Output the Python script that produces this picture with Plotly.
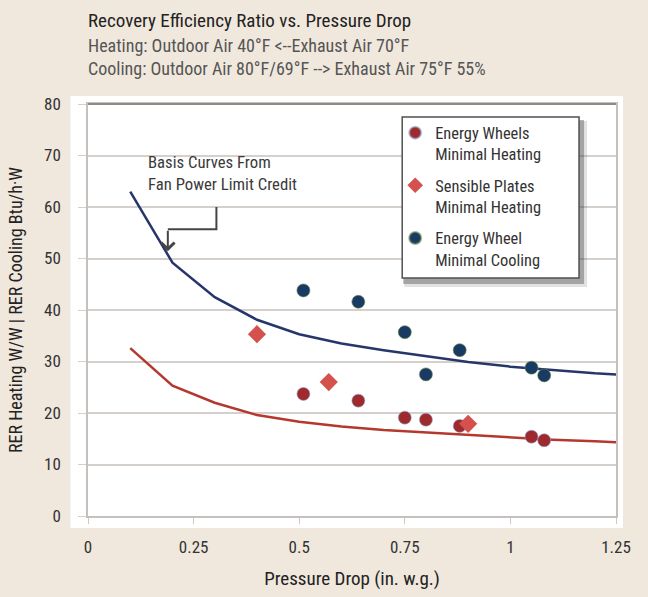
import plotly.graph_objects as go

# ---- data ----
curve_x = [0.1, 0.2, 0.3, 0.4, 0.5, 0.6, 0.7, 0.8, 0.9, 1.0, 1.1, 1.2, 1.25]
cooling_curve = [63.0, 49.2, 42.5, 38.1, 35.3, 33.5, 32.2, 31.0, 29.9, 29.0, 28.3, 27.7, 27.5]
heating_curve = [32.6, 25.3, 22.0, 19.6, 18.3, 17.4, 16.7, 16.2, 15.7, 15.2, 14.8, 14.5, 14.3]

wheel_heat_x = [0.51, 0.64, 0.75, 0.80, 0.88, 1.05, 1.08]
wheel_heat_y = [23.7, 22.4, 19.1, 18.7, 17.5, 15.4, 14.7]

plate_heat_x = [0.40, 0.57, 0.90]
plate_heat_y = [35.3, 26.0, 17.9]

wheel_cool_x = [0.51, 0.64, 0.75, 0.88, 0.80, 1.05, 1.08]
wheel_cool_y = [43.8, 41.6, 35.7, 32.2, 27.5, 28.8, 27.3]

x_ticks = [0, 0.25, 0.5, 0.75, 1, 1.25]
x_tick_text = ["0", "0.25", "0.5", "0.75", "1", "1.25"]
y_ticks = [0, 10, 20, 30, 40, 50, 60, 70, 80]

title_lines = [
    "Recovery Efficiency Ratio vs. Pressure Drop",
    "Heating: Outdoor Air 40°F <--Exhaust Air 70°F",
    "Cooling: Outdoor Air 80°F/69°F --> Exhaust Air 75°F 55%",
]

FONT = "Roboto Condensed, Liberation Sans Narrow, DejaVu Sans Condensed, sans-serif"
BG = "#F0E8DD"
NAVY = "#183A63"
NAVY_LINE = "#26366B"
RED = "#9E2A2D"
RED_LINE = "#B5382F"
DIAMOND = "#D4514D"
GRID = "#D6D0CC"

# plot-area geometry in pixels (used to place paper-referenced decorations)
L, R, T, B = 87.5, 616.0, 104.0, 516.0
PW, PH = R - L, B - T


def px_x(p):
    return (p - L) / PW


def px_y(p):
    return (B - p) / PH


fig = go.Figure()

fig.add_trace(go.Scatter(x=curve_x, y=cooling_curve, mode="lines",
                         line=dict(color=NAVY_LINE, width=2.5), showlegend=False, hoverinfo="skip"))
fig.add_trace(go.Scatter(x=curve_x, y=heating_curve, mode="lines",
                         line=dict(color=RED_LINE, width=2.5), showlegend=False, hoverinfo="skip"))

fig.add_trace(go.Scatter(x=wheel_heat_x, y=wheel_heat_y, mode="markers", legendgroup="a",
                         name="Energy Wheels<br>Minimal Heating",
                         marker=dict(symbol="circle", size=13, color=RED,
                                     line=dict(color="rgba(143,168,208,0.6)", width=1))))
fig.add_trace(go.Scatter(x=plate_heat_x, y=plate_heat_y, mode="markers", legendgroup="b",
                         name="Sensible Plates<br>Minimal Heating",
                         marker=dict(symbol="diamond", size=14, color=DIAMOND,
                                     line=dict(width=0))))
fig.add_trace(go.Scatter(x=wheel_cool_x, y=wheel_cool_y, mode="markers", legendgroup="c",
                         name="Energy Wheel<br>Minimal Cooling",
                         marker=dict(symbol="circle", size=13, color=NAVY,
                                     line=dict(color="rgba(110,138,78,0.6)", width=1))))

# white chart area behind the axes
fig.add_shape(type="rect", xref="paper", yref="paper",
              x0=px_x(70), x1=px_x(623), y0=px_y(528), y1=px_y(96),
              fillcolor="white", line=dict(width=0), layer="below")
# top border line
fig.add_shape(type="line", xref="paper", yref="paper", x0=0, x1=1, y0=1, y1=1,
              line=dict(color="#8E8A88", width=2))
# legend shadow + box
fig.add_shape(type="rect", xref="paper", yref="paper",
              x0=px_x(404), x1=px_x(587), y0=px_y(287), y1=px_y(121),
              fillcolor="rgba(60,60,60,0.15)", line=dict(width=0), layer="above")
fig.add_shape(type="rect", xref="paper", yref="paper",
              x0=px_x(403), x1=px_x(584), y0=px_y(284), y1=px_y(120),
              fillcolor="rgba(50,50,50,0.35)", line=dict(width=0), layer="above")
fig.add_shape(type="rect", xref="paper", yref="paper",
              x0=px_x(402), x1=px_x(579), y0=px_y(278), y1=px_y(117),
              fillcolor="white", line=dict(color="#505050", width=1.5), layer="above")

# annotation callout
fig.add_annotation(x=0.138, y=70.8, xref="x", yref="y", xanchor="left", yanchor="top",
                   text="Basis Curves From<br>Fan Power Limit Credit", showarrow=False,
                   align="left", font=dict(family=FONT, size=16.7, color="#3A3A3A"))
fig.add_shape(type="path", xref="x", yref="y",
              path="M 0.304 60.0 L 0.304 55.7 L 0.189 55.7",
              line=dict(color="#454545", width=2))
fig.add_annotation(x=0.189, y=51.4, ax=0.189, ay=55.7, xref="x", yref="y",
                   axref="x", ayref="y", text="", showarrow=True,
                   arrowhead=4, arrowsize=1.3, arrowwidth=2, arrowcolor="#454545")

# title lines
title_y = [20.5, 45.5, 69]
title_sizes = [19, 18, 18]
title_colors = ["#222222", "#555555", "#555555"]
for txt, yy, sz, col in zip(title_lines, title_y, title_sizes, title_colors):
    fig.add_annotation(x=px_x(85), y=px_y(yy), xref="paper", yref="paper", text=txt,
                       showarrow=False, xanchor="left", yanchor="middle",
                       font=dict(family=FONT, size=sz, color=col))

fig.update_layout(
    width=648, height=597,
    margin=dict(l=L, r=648 - R, t=T, b=597 - B, autoexpand=False),
    paper_bgcolor=BG, plot_bgcolor="white",
    font=dict(family=FONT, size=17, color="#333333"),
    showlegend=True,
    legend=dict(x=px_x(395), y=px_y(115.5), xanchor="left", yanchor="top",
                bgcolor="rgba(0,0,0,0)", borderwidth=0, valign="top",
                font=dict(family=FONT, size=16.4, color="#333333"),
                tracegroupgap=7, itemsizing="constant"),
    xaxis=dict(range=[0, 1.25], tickvals=x_ticks, ticktext=x_tick_text, automargin=False,
               showgrid=False, zeroline=False, showline=True, linecolor="#C6C0BC", linewidth=1.5,
               mirror=True, ticks="outside", ticklen=6, tickcolor="#D0CAC6",
               ticklabelstandoff=9, tickfont=dict(size=17, color="#333333"),
               title=dict(text="Pressure Drop (in. w.g.)", standoff=16,
                          font=dict(family=FONT, size=19, color="#222222"))),
    yaxis=dict(range=[0, 80], tickvals=y_ticks, automargin=False,
               showgrid=True, gridcolor=GRID, gridwidth=1.5, zeroline=False,
               showline=True, linecolor="#C6C0BC", linewidth=1.5, mirror=True,
               ticks="outside", ticklen=8, tickcolor=GRID,
               ticklabelstandoff=14, tickfont=dict(size=17, color="#333333"),
               title=dict(text="RER Heating W/W | RER Cooling Btu/h·W", standoff=17,
                          font=dict(family=FONT, size=18, color="#222222"))),
)

fig.write_html("out.html", config={"displayModeBar": False},
               post_script="document.body.style.margin='0';")
